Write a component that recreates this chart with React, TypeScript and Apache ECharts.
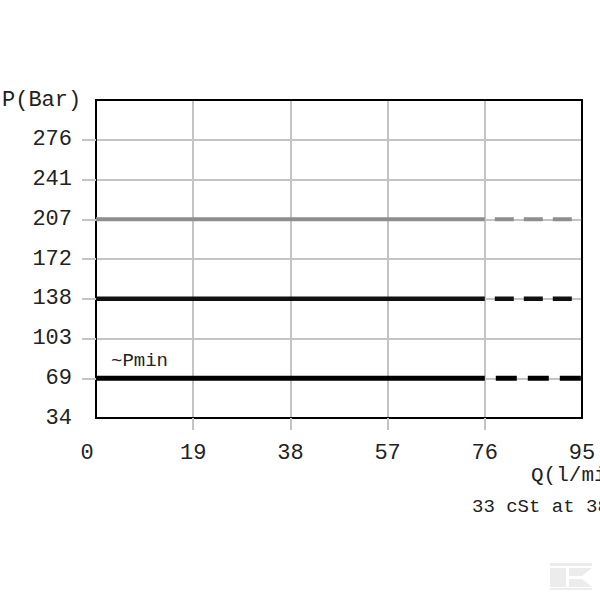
import React, { useEffect, useRef } from "react";
import * as echarts from "echarts";

// ---- data ----
const flowTicks = [0, 19, 38, 57, 76, 95];
const flowLabels = ["0", "19", "38", "57", "76", "95"];
const pressureTicks = [34.5, 69, 103.5, 138, 172.5, 207, 241.5, 276];
const pressureLabels = ["34", "69", "103", "138", "172", "207", "241", "276"];
const settingNames = ["207 bar", "138 bar", "69 bar (~Pmin)"];
const settingPressures = [207, 138, 69];
const settingColors = ["#8e8e8e", "#111111", "#000000"];
const settingWidths = [4, 4.5, 5];
const solidFlowRange = [0, 76];
const dashedFlowRange = [76, 95];

const FONT = '"Courier New", "Liberation Mono", monospace';

export default function App() {
  const ref = useRef<HTMLDivElement>(null);
  useEffect(() => {
    if (!ref.current) return;
    const chart = echarts.init(ref.current, undefined, { renderer: "svg" });

    const series: any[] = [];
    settingPressures.forEach((p, i) => {
      series.push({
        name: settingNames[i],
        type: "line",
        symbol: "none",
        silent: true,
        data: [
          [solidFlowRange[0], p],
          [solidFlowRange[1], p],
        ],
        lineStyle: { color: settingColors[i], width: settingWidths[i], cap: "butt" },
        z: 5,
      });
      const last = i === 2;
      series.push({
        name: settingNames[i] + " (dashed)",
        type: "line",
        symbol: "none",
        silent: true,
        data: [
          [dashedFlowRange[0], p],
          [dashedFlowRange[1], p],
        ],
        lineStyle: {
          color: settingColors[i],
          width: settingWidths[i],
          cap: "butt",
          type: last ? [21, 11] : [19, 10],
          dashOffset: last ? 21 : 19,
        },
        z: 5,
      });
    });

    const labelStyle = { fontFamily: FONT, fontSize: 22, color: "#222" };
    const gridLine = { show: true, lineStyle: { color: "#c4c4c4", width: 2 } };
    const tickStyle = { lineStyle: { color: "#c4c4c4", width: 2 } };

    chart.setOption({
      animation: false,
      backgroundColor: "#ffffff",
      grid: { left: 96, right: 18, top: 100, bottom: 182, containLabel: false, outerBoundsMode: "none" },
      xAxis: [
        {
          type: "value",
          min: 0,
          max: 95,
          interval: 19,
          axisLine: { show: true, onZero: false, lineStyle: { color: "#000", width: 2 } },
          axisTick: { show: true, length: 12, customValues: flowTicks.slice(1, -1), ...tickStyle },
          splitLine: gridLine,
          axisLabel: {
            ...labelStyle,
            margin: 24,
            customValues: flowTicks,
            formatter: (v: number) => {
              const i = flowTicks.indexOf(v);
              const t = i >= 0 ? flowLabels[i] : String(v);
              return i === 0 ? "{z|" + t + "}" : t;
            },
            rich: { z: { fontFamily: FONT, fontSize: 22, color: "#222", padding: [0, 18, 0, 0] } },
          },
        },
        {
          type: "value",
          position: "top",
          min: 0,
          max: 95,
          interval: 19,
          axisLine: { show: true, onZero: false, lineStyle: { color: "#000", width: 2 } },
          axisTick: { show: false },
          axisLabel: { show: false },
          splitLine: { show: false },
        },
      ],
      yAxis: [
        {
          type: "value",
          min: 34.5,
          max: 310.5,
          interval: 34.5,
          axisLine: { show: true, onZero: false, lineStyle: { color: "#000", width: 2 } },
          axisTick: { show: true, length: 14, customValues: pressureTicks.slice(1), ...tickStyle },
          splitLine: gridLine,
          axisLabel: {
            ...labelStyle,
            margin: 24,
            customValues: pressureTicks,
            formatter: (v: number) => {
              const i = pressureTicks.indexOf(v);
              return i >= 0 ? pressureLabels[i] : "";
            },
          },
        },
        {
          type: "value",
          position: "right",
          min: 34.5,
          max: 310.5,
          interval: 34.5,
          axisLine: { show: true, onZero: false, lineStyle: { color: "#000", width: 2 } },
          axisTick: { show: false },
          axisLabel: { show: false },
          splitLine: { show: false },
        },
      ],
      series,
      graphic: [
        {
          type: "text",
          left: 2,
          top: 89,
          style: { text: "P(Bar)", font: `22px ${FONT}`, fill: "#222" },
        },
        {
          type: "text",
          x: 111,
          y: 351,
          style: { text: "~Pmin", font: `19px ${FONT}`, fill: "#222" },
        },
        {
          type: "text",
          x: 531,
          y: 465,
          style: { text: "Q(l/min)", font: `21px ${FONT}`, fill: "#222" },
        },
        {
          type: "text",
          x: 472,
          y: 497,
          style: { text: "33 cSt at 38°C", font: `19px ${FONT}`, fill: "#222" },
        },
        { type: "rect", shape: { x: 550, y: 563, width: 42, height: 3 }, style: { fill: "#ececec" } },
        { type: "rect", shape: { x: 550, y: 568, width: 16, height: 19 }, style: { fill: "#ececec" } },
        {
          type: "polygon",
          shape: { points: [[569, 568], [592, 568], [582, 576], [569, 576]] },
          style: { fill: "#ececec" },
        },
        {
          type: "polygon",
          shape: { points: [[569, 579], [582, 579], [592, 587], [569, 587]] },
          style: { fill: "#ececec" },
        },
        { type: "rect", shape: { x: 550, y: 588, width: 42, height: 2 }, style: { fill: "#ececec" } },
      ],
    });
    return () => chart.dispose();
  }, []);
  return (
    <div
      ref={ref}
      style={{ position: "fixed", left: 0, top: 0, width: 600, height: 600, background: "#fff" }}
    />
  );
}
